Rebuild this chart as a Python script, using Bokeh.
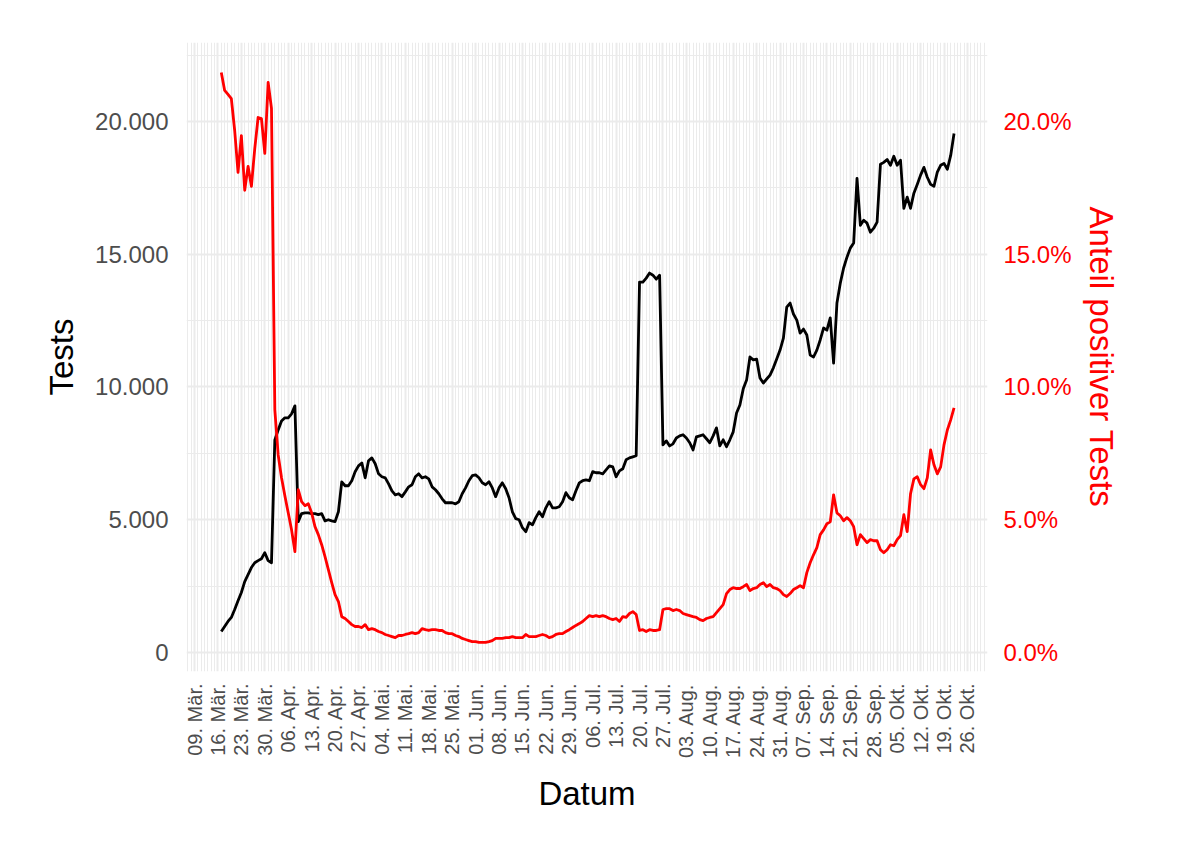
import pandas as pd
from bokeh.plotting import figure
from bokeh.models import Range1d, LinearAxis, FixedTicker, ColumnDataSource
from bokeh.embed import file_html
from bokeh.resources import INLINE

# ---------------- data ----------------
start_date = "2020-03-17"
axis_origin = "2020-03-09"

tests = [
    790, 980, 1170, 1320, 1620, 1950, 2260, 2670, 2930, 3200, 3380, 3460, 3530, 3760, 3460, 3380,
    8010, 8380, 8720, 8840, 8840, 8990, 9290,
    4930, 5230, 5260, 5260, 5230, 5230, 5190, 5230, 4960, 5000, 4960, 4930, 5300,
    6430, 6280, 6280, 6470, 6810, 7030, 7140, 6580, 7220, 7330, 7110, 6730, 6620, 6580, 6350,
    6090, 5940, 5980, 5870, 6050, 6240, 6320, 6620, 6730, 6580, 6620, 6540, 6240, 6130, 5980,
    5790, 5640, 5640, 5640, 5600, 5680, 5980, 6200, 6470, 6660, 6690, 6580, 6390, 6320, 6430,
    6200, 5870, 6200, 6390, 6170, 5830, 5300, 5040, 5000, 4700, 4550, 4890, 4810, 5080, 5300,
    5110, 5450, 5680, 5450, 5450, 5490, 5680, 6020, 5830, 5750, 6090, 6390, 6470, 6500, 6470,
    6810, 6770, 6770, 6730, 6880, 7030, 6990, 6620, 6840, 6920, 7260, 7330, 7370, 7410,
    13950, 13950, 14100, 14290, 14210, 14060, 14210,
    7820, 7970, 7780, 7860, 8080, 8160, 8200, 8080, 7900, 7630, 8120, 8160, 8200, 8050, 7900,
    8160, 8460, 7780, 8010, 7750, 8010, 8310, 9020, 9320, 9930, 10260, 11130, 11020, 11050,
    10340, 10150, 10300, 10450, 10720, 11050, 11390, 11840, 13010, 13160, 12750, 12520, 12030,
    12180, 11960, 11200, 11130, 11390, 11770, 12220, 12140, 12600, 10900, 13160, 13910, 14480,
    14890, 15230, 15420, 17860, 16090, 16280, 16170, 15830, 15980, 16210, 18390, 18460, 18570,
    18350, 18690, 18350, 18540, 16730, 17150, 16730, 17300, 17630, 17980, 18270, 17900, 17630,
    17560, 18090, 18350, 18420, 18200, 18720, 19550,
]

positive_pct = [
    21.84, 21.17, 21.02, 20.86, 19.66, 18.08, 19.47, 17.41, 18.31, 17.56, 18.98, 20.15, 20.11,
    18.80, 21.47, 20.49, 9.14, 7.44, 6.58, 5.90, 5.26, 4.62, 3.80, 6.13, 5.68, 5.53, 5.60, 5.26,
    4.74, 4.44, 4.06, 3.61, 3.12, 2.63, 2.18, 1.92, 1.35, 1.28, 1.17, 1.05, 0.98, 0.98, 0.94,
    1.05, 0.86, 0.90, 0.86, 0.79, 0.75, 0.68, 0.64, 0.60, 0.56, 0.64, 0.64, 0.68, 0.71, 0.75,
    0.71, 0.75, 0.90, 0.86, 0.83, 0.86, 0.86, 0.83, 0.83, 0.75, 0.71, 0.71, 0.64, 0.60, 0.53,
    0.49, 0.45, 0.41, 0.41, 0.38, 0.38, 0.38, 0.41, 0.45, 0.53, 0.53, 0.53, 0.56, 0.56, 0.60,
    0.56, 0.56, 0.56, 0.68, 0.60, 0.60, 0.60, 0.64, 0.68, 0.64, 0.56, 0.60, 0.68, 0.71, 0.71,
    0.79, 0.86, 0.94, 1.02, 1.09, 1.17, 1.28, 1.39, 1.35, 1.39, 1.35, 1.39, 1.35, 1.28, 1.24,
    1.28, 1.17, 1.35, 1.32, 1.47, 1.54, 1.43, 0.83, 0.86, 0.79, 0.86, 0.83, 0.83, 0.86, 1.62,
    1.65, 1.65, 1.58, 1.62, 1.58, 1.47, 1.43, 1.39, 1.35, 1.32, 1.24, 1.20, 1.28, 1.32, 1.35,
    1.50, 1.65, 1.80, 2.22, 2.37, 2.44, 2.41, 2.41, 2.48, 2.56, 2.33, 2.41, 2.44, 2.56, 2.63,
    2.48, 2.56, 2.44, 2.41, 2.33, 2.18, 2.11, 2.22, 2.37, 2.44, 2.52, 2.44, 3.01, 3.38, 3.68,
    3.95, 4.44, 4.62, 4.85, 4.92, 5.94, 5.26, 5.15, 4.96, 5.08, 4.96, 4.74, 4.06, 4.44, 4.29,
    4.14, 4.25, 4.21, 4.21, 3.87, 3.76, 3.87, 4.06, 4.02, 4.25, 4.40, 5.19, 4.55, 5.98, 6.54,
    6.62, 6.32, 6.17, 6.58, 7.63, 7.07, 6.73, 6.99, 7.82, 8.38, 8.76, 9.21,
]

tick_labels = [
    "09. Mär.", "16. Mär.", "23. Mär.", "30. Mär.", "06. Apr.", "13. Apr.", "20. Apr.",
    "27. Apr.", "04. Mai.", "11. Mai.", "18. Mai.", "25. Mai.", "01. Jun.", "08. Jun.",
    "15. Jun.", "22. Jun.", "29. Jun.", "06. Jul.", "13. Jul.", "20. Jul.", "27. Jul.",
    "03. Aug.", "10. Aug.", "17. Aug.", "24. Aug.", "31. Aug.", "07. Sep.", "14. Sep.",
    "21. Sep.", "28. Sep.", "05. Okt.", "12. Okt.", "19. Okt.", "26. Okt.",
]
left_ticks = [0, 5000, 10000, 15000, 20000]
left_labels = ["0", "5.000", "10.000", "15.000", "20.000"]
right_ticks = [0, 5, 10, 15, 20]
right_labels = ["0.0%", "5.0%", "10.0%", "15.0%", "20.0%"]

# ---------------- build ----------------
n = min(len(tests), len(positive_pct))
dates = pd.date_range(start_date, periods=n, freq="D")
xday = [int((d - pd.Timestamp(axis_origin)).days) for d in dates]
src = ColumnDataSource(dict(x=xday, tests=tests[:n], pct=positive_pct[:n]))

FONT = "Liberation Sans"
GRID = "#ebebeb"

y_lo, y_hi = -715, 22974
p = figure(width=1184, height=826, output_backend="svg", toolbar_location=None,
           x_range=Range1d(-2.4, 237.0), y_range=Range1d(y_lo, y_hi),
           min_border_left=186, min_border_right=197, min_border_top=42, min_border_bottom=155)
p.extra_y_ranges = {"pct": Range1d(y_lo / 1000, y_hi / 1000)}
p.outline_line_color = None
p.background_fill_color = "white"
p.border_fill_color = "white"

week_ticks = [7 * i for i in range(len(tick_labels))]
day_ticks = [d for d in range(-2, 238) if d % 7 != 0]

# x axis
xa = p.xaxis[0]
xa.ticker = FixedTicker(ticks=week_ticks, minor_ticks=day_ticks)
xa.major_label_overrides = {t: l for t, l in zip(week_ticks, tick_labels)}
xa.major_label_orientation = 1.5707963
xa.axis_label = "Datum"

# left axis
ya = p.yaxis[0]
ya.ticker = FixedTicker(ticks=left_ticks, minor_ticks=[2500, 7500, 12500, 17500, 22500])
ya.major_label_overrides = {t: l for t, l in zip(left_ticks, left_labels)}
ya.axis_label = "Tests"

# right axis
ra = LinearAxis(y_range_name="pct", axis_label="Anteil positiver Tests")
ra.ticker = FixedTicker(ticks=right_ticks)
ra.major_label_overrides = {t: l for t, l in zip(right_ticks, right_labels)}
p.add_layout(ra, "right")

for ax in [xa, ya, ra]:
    ax.axis_line_color = None
    ax.major_tick_line_color = None
    ax.minor_tick_line_color = None
    ax.major_tick_out = 0
    ax.major_tick_in = 0
    ax.minor_tick_out = 0
    ax.minor_tick_in = 0
    ax.major_label_text_font = FONT
    ax.axis_label_text_font = FONT
    ax.axis_label_text_font_style = "normal"
    ax.major_label_text_color = "#4d4d4d"
    ax.axis_label_text_color = "black"
    ax.axis_label_text_font_size = "33px"

xa.major_label_text_font_size = "20px"
xa.major_label_standoff = 12
xa.axis_label_standoff = 14
ya.major_label_text_font_size = "24px"
ya.major_label_standoff = 18
ya.axis_label_standoff = 12
ra.major_label_text_font_size = "24px"
ra.major_label_text_color = "#ff0000"
ra.axis_label_text_color = "#ff0000"
ra.major_label_standoff = 16
ra.axis_label_standoff = 8

# grids
p.xgrid.ticker = xa.ticker
p.xgrid.grid_line_color = GRID
p.xgrid.grid_line_width = 2
p.xgrid.minor_grid_line_color = GRID
p.xgrid.minor_grid_line_width = 1
p.ygrid.ticker = ya.ticker
p.ygrid.grid_line_color = GRID
p.ygrid.grid_line_width = 2
p.ygrid.minor_grid_line_color = GRID
p.ygrid.minor_grid_line_width = 1

# lines
p.line("x", "tests", source=src, line_color="black", line_width=2.8, line_join="round")
p.line("x", "pct", source=src, y_range_name="pct", line_color="#ff0000", line_width=2.8,
       line_join="round")

open("out.html", "w").write(file_html(p, INLINE))
